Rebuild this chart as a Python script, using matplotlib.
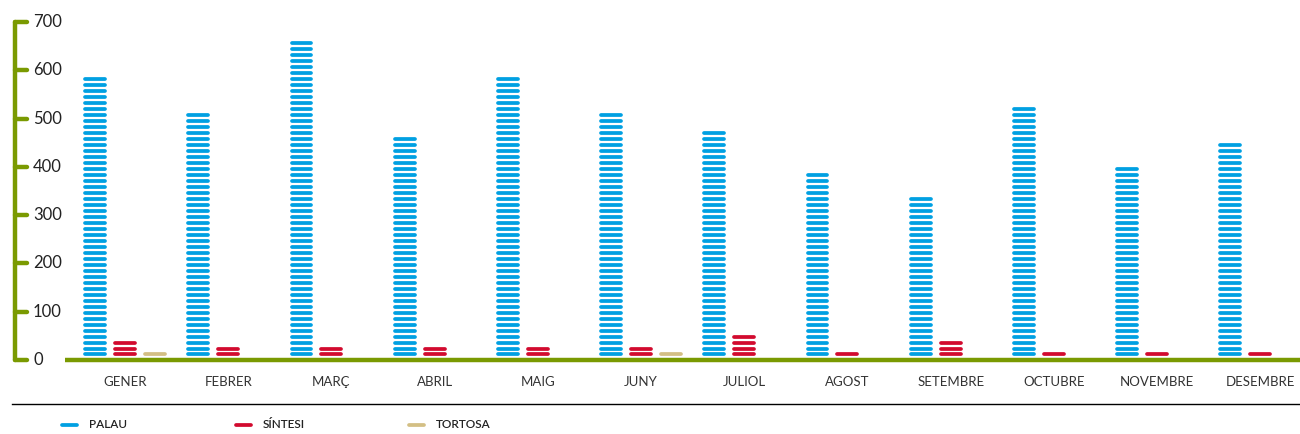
import matplotlib
matplotlib.use("Agg")
import matplotlib.pyplot as plt
from matplotlib.lines import Line2D
from matplotlib import transforms
import numpy as np

# Dades
mesos = ["GENER", "FEBRER", "MARÇ", "ABRIL", "MAIG", "JUNY", "JULIOL",
         "AGOST", "SETEMBRE", "OCTUBRE", "NOVEMBRE", "DESEMBRE"]
palau = [584, 510, 660, 460, 584, 510, 472, 386, 336, 522, 398, 448]
sintesi = [37, 25, 25, 25, 25, 25, 50, 12, 37, 12, 12, 12]
tortosa = [12, 0, 0, 0, 0, 12, 0, 0, 0, 0, 0, 0]
series = ["PALAU", "SÍNTESI", "TORTOSA"]
colors = ["#00a0e2", "#d20a2e", "#d3bf84"]
yticks = [0, 100, 200, 300, 400, 500, 600, 700]

W, H = 1300, 434
fig = plt.figure(figsize=(13, 4.34), dpi=100)
plt.rcParams['font.family'] = ['Lato', 'DejaVu Sans']

# eix principal: x de 65 a 1300 px, y de 0 (360 px) a 700 (22 px)
ax = fig.add_axes([65 / W, (H - 360) / H, (1300 - 65) / W, 338 / H])
ax.set_ylim(0, 700)
ax.set_xlim(-60 / 103.2, (1300 - 125) / 103.2)
ax.axis("off")

step = 12.4
half = 0.096
offsets = [-0.29, 0.0, 0.29]
for vals, off, col in zip([palau, sintesi, tortosa], offsets, colors):
	for i, v in enumerate(vals):
		n = int(round(v / step))
		for k in range(1, n + 1):
			y = k * step - 1
			ax.plot([i + off - half, i + off + half], [y, y], color=col,
					lw=2.7, solid_capstyle="round")

# línia base
ax.plot([-60 / 103.2, (1300 - 125) / 103.2], [-1, -1], color="#7a9a01",
		lw=3.2, solid_capstyle="butt", clip_on=False)

for i, m in enumerate(mesos):
	ax.text(i, -45, m, ha="center", va="center", fontsize=9.5, color="#333333")

# eix vertical
tr = transforms.blended_transform_factory(fig.transFigure, ax.transData)
x0 = 15 / W
ax.add_line(Line2D([x0, x0], [0, 700], transform=tr, color="#7a9a01",
				   lw=3.2, solid_capstyle="round", clip_on=False))
for t in yticks:
	ax.add_line(Line2D([x0, 27 / W], [t, t], transform=tr, color="#7a9a01",
					   lw=3.2, solid_capstyle="round", clip_on=False))
	ax.text(33 / W, t, str(t), transform=tr, ha="left", va="center",
			fontsize=12, color="#222222")

# separador i llegenda
fig.add_artist(Line2D([12 / W, 1300 / W], [(H - 404) / H] * 2,
					  transform=fig.transFigure, color="black", lw=1))
ly = (H - 425) / H
for lx, name, col in zip([62, 236, 409], series, colors):
	fig.add_artist(Line2D([lx / W, (lx + 15) / W], [ly, ly], transform=fig.transFigure,
						  color=col, lw=2.7, solid_capstyle="round"))
	fig.text((lx + 27) / W, ly, name, ha="left", va="center", fontsize=8.5,
			 fontweight="semibold", color="#222222")

fig.savefig("out.png", dpi=100)
